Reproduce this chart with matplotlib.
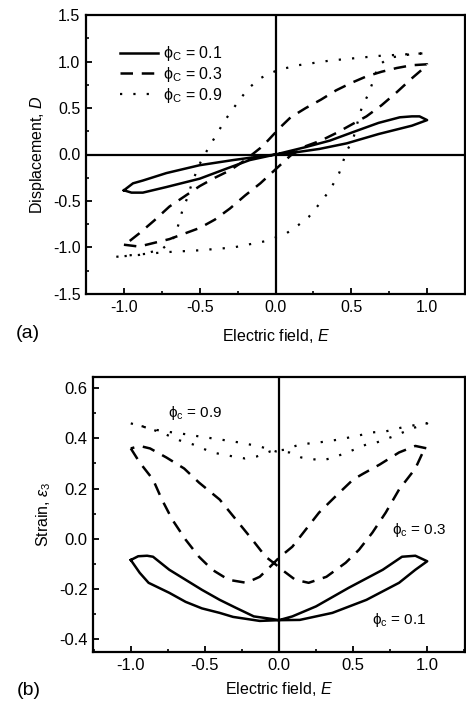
import matplotlib
matplotlib.use('Agg')
import matplotlib.pyplot as plt
import numpy as np
from matplotlib.ticker import MultipleLocator

plt.rcParams['font.family'] = ['Liberation Sans', 'DejaVu Sans']
plt.rcParams['mathtext.fontset'] = 'custom'
plt.rcParams['mathtext.rm'] = 'Liberation Sans'
plt.rcParams['mathtext.it'] = 'Liberation Sans:italic'
plt.rcParams['axes.unicode_minus'] = False

# ---- (a) displacement loops: branch going up in E, then branch coming back ----
a01_up_E = [-1.0, -0.95, -0.875, -0.72, -0.5, -0.32, -0.17, 0.0, 0.14, 0.29, 0.47, 0.68, 0.9, 1.0]
a01_up_D = [-0.385, -0.41, -0.41, -0.35, -0.26, -0.15, -0.06, 0.0, 0.025, 0.06, 0.12, 0.22, 0.31, 0.37]
a01_dn_E = [1.0, 0.95, 0.9, 0.82, 0.68, 0.51, 0.36, 0.2, 0.0, -0.1, -0.28, -0.5, -0.72, -0.875, -0.94, -1.0]
a01_dn_D = [0.37, 0.41, 0.41, 0.40, 0.34, 0.24, 0.15, 0.08, 0.0, -0.02, -0.06, -0.115, -0.2, -0.28, -0.31, -0.385]

a03_up_E = [-1.0, -0.9, -0.8, -0.7, -0.6, -0.5, -0.4, -0.3, -0.2, -0.1, 0.0, 0.1, 0.2, 0.3, 0.4, 0.5, 0.6, 0.7, 0.8, 0.9, 1.0]
a03_up_D = [-0.97, -0.99, -0.95, -0.91, -0.85, -0.79, -0.70, -0.58, -0.44, -0.31, -0.16, -0.01, 0.09, 0.15, 0.23, 0.32, 0.41, 0.53, 0.67, 0.82, 0.96]
a03_dn_E = [1.0, 0.9, 0.8, 0.7, 0.6, 0.5, 0.4, 0.3, 0.2, 0.1, 0.03, -0.05, -0.1, -0.2, -0.3, -0.4, -0.5, -0.6, -0.7, -0.8, -0.9, -0.97, -1.0]
a03_dn_D = [0.97, 0.96, 0.93, 0.89, 0.84, 0.77, 0.69, 0.59, 0.50, 0.40, 0.29, 0.15, 0.07, -0.06, -0.17, -0.25, -0.34, -0.45, -0.56, -0.71, -0.85, -0.94, -0.97]

a09_up_E = [-1.05, -0.94, -0.72, -0.5, -0.28, -0.06, 0.07, 0.15, 0.22, 0.29, 0.36, 0.42, 0.47, 0.51, 0.53, 0.57, 0.61, 0.64, 0.68, 0.75, 0.9, 1.0]
a09_up_D = [-1.1, -1.08, -1.05, -1.03, -1.0, -0.93, -0.85, -0.76, -0.67, -0.53, -0.38, -0.2, 0.04, 0.15, 0.28, 0.51, 0.64, 0.77, 0.96, 1.04, 1.08, 1.09]
a09_dn_E = [1.0, 0.68, 0.36, 0.15, 0.02, -0.04, -0.1, -0.18, -0.24, -0.29, -0.34, -0.38, -0.42, -0.46, -0.5, -0.55, -0.58, -0.61, -0.63, -0.65, -0.68, -0.75, -0.9, -1.05]
a09_dn_D = [1.09, 1.06, 1.01, 0.96, 0.91, 0.87, 0.82, 0.71, 0.58, 0.47, 0.35, 0.24, 0.13, 0.02, -0.1, -0.3, -0.46, -0.58, -0.69, -0.81, -0.92, -1.02, -1.08, -1.1]

# ---- (b) strain butterflies ----
b01_a_E = [-1.0, -0.95, -0.89, -0.85, -0.74, -0.63, -0.52, -0.40, -0.29, -0.17, -0.05, 0.0, 0.14, 0.36, 0.59, 0.81, 0.92, 1.0]
b01_a_S = [-0.085, -0.07, -0.068, -0.072, -0.124, -0.164, -0.204, -0.244, -0.276, -0.31, -0.32, -0.325, -0.324, -0.296, -0.244, -0.176, -0.124, -0.09]
b01_b_E = [1.0, 0.92, 0.83, 0.70, 0.47, 0.25, 0.09, 0.0, -0.13, -0.31, -0.40, -0.52, -0.63, -0.74, -0.88, -0.94, -1.0]
b01_b_S = [-0.09, -0.068, -0.072, -0.124, -0.196, -0.27, -0.31, -0.325, -0.328, -0.312, -0.296, -0.278, -0.252, -0.216, -0.176, -0.136, -0.085]

b03_a_E = [-1.0, -0.94, -0.85, -0.79, -0.72, -0.63, -0.54, -0.45, -0.34, -0.22, -0.13, -0.06, 0.0, 0.09, 0.18, 0.27, 0.38, 0.50, 0.57, 0.68, 0.81, 0.92, 1.0]
b03_a_S = [0.36, 0.304, 0.236, 0.156, 0.076, -0.004, -0.072, -0.124, -0.164, -0.176, -0.152, -0.112, -0.076, -0.032, 0.036, 0.104, 0.168, 0.236, 0.26, 0.296, 0.344, 0.37, 0.36]
b03_b_E = [1.0, 0.97, 0.92, 0.81, 0.72, 0.63, 0.54, 0.45, 0.32, 0.20, 0.11, 0.02, -0.02, -0.09, -0.18, -0.29, -0.40, -0.54, -0.64, -0.76, -0.87, -0.94, -1.0]
b03_b_S = [0.36, 0.344, 0.28, 0.196, 0.104, 0.024, -0.044, -0.096, -0.152, -0.176, -0.164, -0.124, -0.104, -0.072, -0.004, 0.076, 0.156, 0.224, 0.28, 0.324, 0.36, 0.37, 0.36]

b09_a_E = [-1.0, -0.85, -0.72, -0.62, -0.54, -0.40, -0.27, -0.13, -0.02, 0.07, 0.15, 0.29, 0.37, 0.51, 0.59, 0.66, 0.78, 0.9, 1.0]
b09_a_S = [0.46, 0.436, 0.424, 0.416, 0.408, 0.396, 0.384, 0.368, 0.348, 0.344, 0.324, 0.312, 0.324, 0.356, 0.376, 0.384, 0.41, 0.44, 0.46]
b09_b_E = [1.0, 0.86, 0.72, 0.63, 0.54, 0.41, 0.27, 0.14, 0.04, -0.06, -0.15, -0.23, -0.31, -0.45, -0.58, -0.67, -0.78, -0.9, -1.0]
b09_b_S = [0.46, 0.448, 0.428, 0.424, 0.412, 0.396, 0.384, 0.376, 0.355, 0.348, 0.328, 0.32, 0.328, 0.344, 0.376, 0.392, 0.42, 0.445, 0.46]

solid = dict(color='black', lw=1.8, ls='-')
dash = dict(color='black', lw=1.8, ls=(0, (5, 3.5)))
dot = dict(color='black', lw=1.6, ls=(0, (1, 5)))

W, H = 466, 706
fig = plt.figure(figsize=(W / 100, H / 100), dpi=100)
ax1 = fig.add_axes([86 / W, 1 - 294 / H, 379 / W, 279 / H])
ax2 = fig.add_axes([93 / W, 1 - 652 / H, 372 / W, 275 / H])

# panel (a)
ax1.plot(a01_up_E + a01_dn_E, a01_up_D + a01_dn_D, label=r'ϕ$_\mathrm{C}$ = 0.1', **solid)
ax1.plot(a03_up_E + a03_dn_E, a03_up_D + a03_dn_D, label=r'ϕ$_\mathrm{C}$ = 0.3', **dash)
ax1.plot(a09_up_E + a09_dn_E, a09_up_D + a09_dn_D, label=r'ϕ$_\mathrm{C}$ = 0.9', **dot)
ax1.axhline(0, color='black', lw=1.6)
ax1.axvline(0, color='black', lw=1.6)
ax1.set_xlim(-1.25, 1.25)
ax1.set_ylim(-1.5, 1.5)
ax1.xaxis.set_major_locator(MultipleLocator(0.5))
ax1.xaxis.set_minor_locator(MultipleLocator(0.25))
ax1.yaxis.set_major_locator(MultipleLocator(0.5))
ax1.yaxis.set_minor_locator(MultipleLocator(0.25))
ax1.set_xlabel('Electric field, $E$', fontsize=11.5, labelpad=9)
ax1.set_ylabel('Displacement, $D$', fontsize=11.5, labelpad=4)
ax1.legend(loc='upper left', bbox_to_anchor=(0.06, 0.935), frameon=False, fontsize=11.5,
           handlelength=2.4, handletextpad=0.3, labelspacing=0.1, borderpad=0.2)
ax1.text(-0.185, -0.14, '(a)', transform=ax1.transAxes, fontsize=14, va='center')

# panel (b)
ax2.plot(b01_a_E + b01_b_E, b01_a_S + b01_b_S, **solid)
ax2.plot(b03_a_E + b03_b_E, b03_a_S + b03_b_S, **dash)
ax2.plot(b09_a_E + b09_b_E, b09_a_S + b09_b_S, **dot)
ax2.axvline(0, color='black', lw=1.6)
ax2.set_xlim(-1.255, 1.255)
ax2.set_ylim(-0.452, 0.645)
ax2.xaxis.set_major_locator(MultipleLocator(0.5))
ax2.xaxis.set_minor_locator(MultipleLocator(0.25))
ax2.yaxis.set_major_locator(MultipleLocator(0.2))
ax2.yaxis.set_minor_locator(MultipleLocator(0.1))
ax2.set_xlabel('Electric field, $E$', fontsize=11.5, labelpad=5)
ax2.set_ylabel(r'Strain, $\epsilon_3$', fontsize=11.5, labelpad=4)
ax2.text(-0.75, 0.50, r'ϕ$_\mathrm{c}$ = 0.9', fontsize=11, va='center')
ax2.text(0.76, 0.036, r'ϕ$_\mathrm{c}$ = 0.3', fontsize=11, va='center')
ax2.text(0.63, -0.324, r'ϕ$_\mathrm{c}$ = 0.1', fontsize=11, va='center')
ax2.text(-0.205, -0.14, '(b)', transform=ax2.transAxes, fontsize=14, va='center')

for ax, fs in ((ax1, 11.5), (ax2, 12)):
    for s in ax.spines.values():
        s.set_linewidth(1.6)
    ax.tick_params(which='major', direction='in', length=4, width=1.3, labelsize=fs, pad=4)
    ax.tick_params(which='minor', direction='in', length=2.5, width=1.2)

fig.savefig('out.png', dpi=100)
